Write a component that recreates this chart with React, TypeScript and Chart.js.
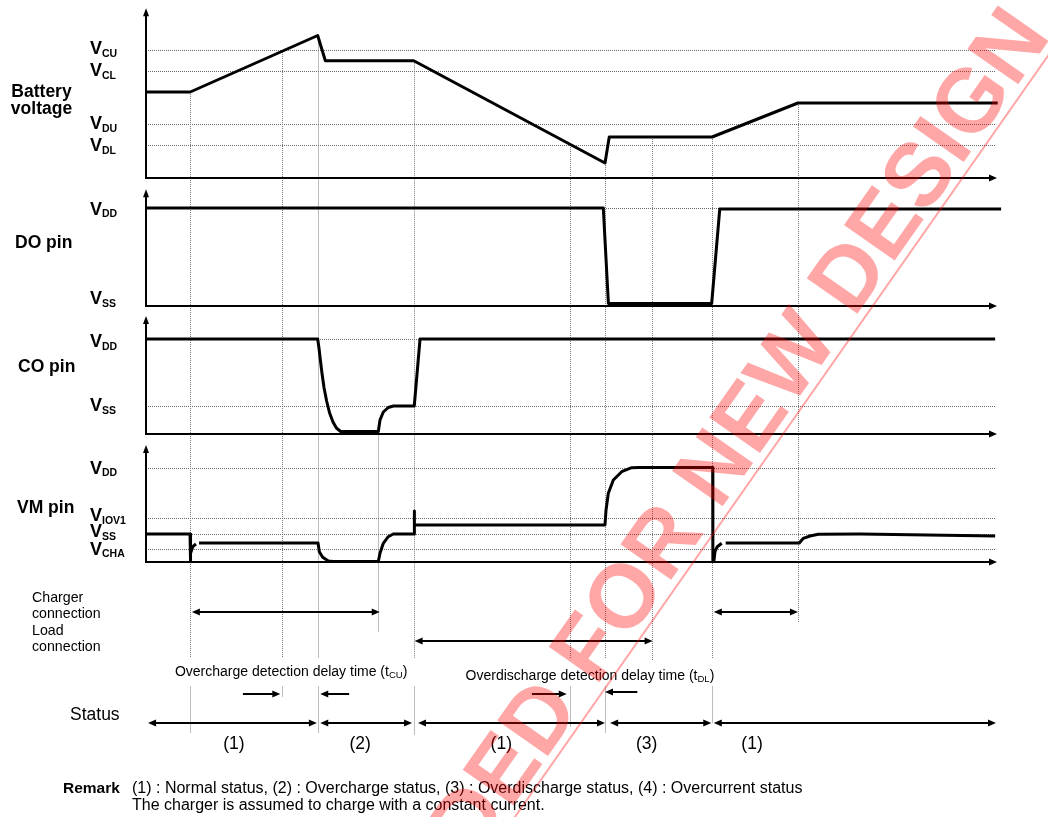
import { useEffect, useRef } from "react";
import { Chart, registerables } from "chart.js";

Chart.register(...registerables);

const FONT = "'Liberation Sans', Arial, Helvetica, sans-serif";

// ---------- time axis (arbitrary time units) ----------
const timeMin = 0;
const timeMax = 100;

// ---------- Battery voltage ----------
const batteryTime = [0, 5.2, 20.2, 21.1, 31.5, 54.0, 54.5, 66.6, 76.7, 100.2];
const batteryLevel = [8.6, 8.6, 14.25, 11.73, 11.73, 1.5, 4.1, 4.1, 7.5, 7.5];
const batteryRefNames = ["CU", "CL", "DU", "DL"];
const batteryRefLevels = [12.8, 10.7, 5.4, 3.3];
const batteryLabelLevels = [13.0, 10.8, 5.5, 3.3];

// ---------- DO pin ----------
const doTime = [0, 53.8, 54.4, 66.55, 67.5, 100.6];
const doLevel = [9.8, 9.8, 0.25, 0.25, 9.7, 9.7];
const doRefLevels = [9.8];
const doLabelNames = ["DD", "SS"];
const doLabelLevels = [9.75, 0.8];

// ---------- CO pin ----------
const coTime = [0, 20.2, 20.35, 20.5, 20.7, 20.95, 21.25, 21.6, 22.0, 22.4, 22.9, 27.33, 27.53, 27.92, 28.5, 29.1, 31.56, 32.24, 99.9];
const coLevel = [9.5, 9.5, 8.6, 7.5, 6.1, 4.6, 3.3, 2.1, 1.2, 0.6, 0.25, 0.25, 1.4, 2.2, 2.65, 2.8, 2.8, 9.5, 9.5];
const coRefLevels = [9.5, 2.8];
const coLabelNames = ["DD", "SS"];
const coLabelLevels = [9.3, 2.9];

// ---------- VM pin ----------
const vmTime = [0, 5.18, 5.21, 5.27, 5.5, 5.88, 6.0, 6.24, 20.24, 20.39, 20.79, 21.45, 22.0, 27.33, 27.53, 27.92, 28.5, 29.09, 31.56, 31.57, 31.58, 54.0, 54.12, 54.39, 54.98, 55.96, 57.14, 57.92, 66.67, 66.69, 66.82, 66.94, 67.21, 67.73, 67.9, 68.2, 76.86, 77.33, 78.12, 79.09, 84.0, 99.9];
const vmLevel = [2.8, 2.8, 0.02, 0.87, 1.53, 1.8, null, 1.9, 1.9, 1.03, 0.47, 0.1, 0.05, 0.05, 0.87, 1.87, 2.53, 2.8, 2.8, 5.1, 3.7, 3.7, 5.2, 6.87, 8.2, 9.03, 9.43, 9.45, 9.45, 0.1, 0.13, 1.03, 1.53, 1.87, null, 1.9, 1.9, 2.37, 2.6, 2.77, 2.8, 2.6];
const vmRefLevels = [9.4, 4.4, 2.8, 1.3];
const vmLabelNames = ["DD", "IOV1", "SS", "CHA"];
const vmLabelLevels = [9.45, 4.7, 3.1, 1.35];

// ---------- vertical guide lines ----------
const guideTime = [5.2, 16.0, 20.2, 27.3, 31.5, 49.9, 54.0, 59.5, 66.6, 76.7];
const guideFromPanel = ["yBat", "yBat", "yBat", "yCO", "yBat", "yBat", "yBat", "yBat", "yBat", "yBat"];
const guideFromLevel = [8.6, 12.8, 14.25, 0.25, 11.73, 3.3, 1.5, 4.1, 4.1, 7.5];
const guideToRow = [17.1, 13.5, 17.1, 7.0, 17.3, 16.5, 17.1, 9.8, 16.1, 6.1];
const guideBroken = [true, true, true, false, true, true, true, false, true, false];

// ---------- connection / status arrows (notes rows) ----------
const chargerStart = [5.4, 66.8];
const chargerEnd = [27.5, 76.7];
const loadStart = [31.6];
const loadEnd = [59.6];
const delayArrowFrom = [11.4, 23.9, 45.4, 57.8];
const delayArrowTo = [15.8, 20.5, 49.5, 54.0];
const delayArrowRow = [13.2, 13.2, 13.2, 13.0];
const statusStart = [0.24, 20.5, 32.0, 54.6, 66.8];
const statusEnd = [20.1, 31.3, 54.0, 66.5, 100];
const statusNames = ["(1)", "(2)", "(1)", "(3)", "(1)"];
const statusLabelTime = [10.35, 25.2, 41.8, 58.9, 71.3];

const ROW_CHARGER = 5.0;
const ROW_LOAD = 7.9;
const ROW_STATUS = 16.1;
const GAP_FROM = 9.6;
const GAP_TO = 12.45;

const panels = [
  { id: "yBat", axisTop: 16.97 },
  { id: "yDO", axisTop: 11.67 },
  { id: "yCO", axisTop: 11.8 },
  { id: "yVM", axisTop: 11.7 },
];

function arrowHead(ctx: CanvasRenderingContext2D, x: number, y: number, dx: number, dy: number, len = 8, half = 3.5) {
  const bx = x - dx * len;
  const by = y - dy * len;
  const nx = -dy;
  const ny = dx;
  ctx.beginPath();
  ctx.moveTo(x, y);
  ctx.lineTo(bx + nx * half, by + ny * half);
  ctx.lineTo(bx - nx * half, by - ny * half);
  ctx.closePath();
  ctx.fill();
}

function seg(ctx: CanvasRenderingContext2D, x1: number, y1: number, x2: number, y2: number) {
  ctx.beginPath();
  ctx.moveTo(x1, y1);
  ctx.lineTo(x2, y2);
  ctx.stroke();
}

function vLabel(ctx: CanvasRenderingContext2D, x: number, yMid: number, sub: string) {
  const base = yMid + 6.4;
  ctx.font = `bold 18px ${FONT}`;
  ctx.textAlign = "left";
  ctx.textBaseline = "alphabetic";
  ctx.fillText("V", x, base);
  const w = ctx.measureText("V").width;
  ctx.font = `bold 10.5px ${FONT}`;
  ctx.fillText(sub, x + w, base + 2.5);
}

function subText(ctx: CanvasRenderingContext2D, x: number, base: number, main: string, sub: string, tail: string, size: number) {
  ctx.textAlign = "left";
  ctx.textBaseline = "alphabetic";
  ctx.font = `${size}px ${FONT}`;
  ctx.fillText(main, x, base);
  let cx = x + ctx.measureText(main).width;
  ctx.font = `${size * 0.68}px ${FONT}`;
  ctx.fillText(sub, cx, base + 1.5);
  cx += ctx.measureText(sub).width;
  ctx.font = `${size}px ${FONT}`;
  ctx.fillText(tail, cx, base);
}

const diagramPlugin = {
  id: "diagram",
  beforeDatasetsDraw(chart: any) {
    const ctx: CanvasRenderingContext2D = chart.ctx;
    const xs = chart.scales.x;
    const X = (t: number) => xs.getPixelForValue(t);
    const Y = (id: string, v: number) => chart.scales[id].getPixelForValue(v);
    ctx.save();
    ctx.strokeStyle = "#6a6a6a";
    ctx.lineWidth = 1;
    ctx.setLineDash([1, 1]);
    const refs: [string, number[]][] = [
      ["yBat", batteryRefLevels],
      ["yDO", doRefLevels],
      ["yCO", coRefLevels],
      ["yVM", vmRefLevels],
    ];
    for (const [id, levels] of refs) {
      for (const lv of levels) {
        const y = Math.round(Y(id, lv)) + 0.5;
        seg(ctx, X(timeMin), y, X(timeMax), y);
      }
    }
    ctx.strokeStyle = "#7a7a7a";
    guideTime.forEach((t, i) => {
      const x = Math.round(X(t)) + 0.5;
      const yTop = Y(guideFromPanel[i], guideFromLevel[i]);
      const yBot = Y("yNote", guideToRow[i]);
      if (guideBroken[i]) {
        seg(ctx, x, yTop, x, Y("yNote", GAP_FROM));
        seg(ctx, x, Y("yNote", GAP_TO), x, yBot);
      } else {
        seg(ctx, x, yTop, x, yBot);
      }
    });
    ctx.setLineDash([]);
    ctx.strokeStyle = "#000";
    ctx.fillStyle = "#000";
    ctx.lineWidth = 2;
    for (const p of panels) {
      const x0 = X(timeMin);
      const y0 = Y(p.id, 0);
      const yTop = Y(p.id, p.axisTop);
      const xEnd = X(timeMax) + 1;
      seg(ctx, x0, y0 + 1, x0, yTop + 6);
      arrowHead(ctx, x0, yTop, 0, -1, 8, 3);
      seg(ctx, x0 - 1, y0, xEnd - 6, y0);
      arrowHead(ctx, xEnd, y0, 1, 0, 8, 3.5);
    }
    ctx.restore();
  },
  afterDraw(chart: any) {
    const ctx: CanvasRenderingContext2D = chart.ctx;
    const xs = chart.scales.x;
    const X = (t: number) => xs.getPixelForValue(t);
    const Y = (id: string, v: number) => chart.scales[id].getPixelForValue(v);
    ctx.save();
    ctx.fillStyle = "#000";
    ctx.strokeStyle = "#000";

    ctx.font = `bold 17.5px ${FONT}`;
    ctx.textBaseline = "alphabetic";
    ctx.textAlign = "center";
    ctx.fillText("Battery", 41.5, Y("yBat", 8.1));
    ctx.fillText("voltage", 41.5, Y("yBat", 6.4));
    ctx.textAlign = "left";
    ctx.fillText("DO pin", 15, Y("yDO", 5.8));
    ctx.fillText("CO pin", 18, Y("yCO", 6.2));
    ctx.fillText("VM pin", 17, Y("yVM", 4.9));

    const LX = 90;
    batteryRefNames.forEach((n, i) => vLabel(ctx, LX, Y("yBat", batteryLabelLevels[i]), n));
    doLabelNames.forEach((n, i) => vLabel(ctx, LX, Y("yDO", doLabelLevels[i]), n));
    coLabelNames.forEach((n, i) => vLabel(ctx, LX, Y("yCO", coLabelLevels[i]), n));
    vmLabelNames.forEach((n, i) => vLabel(ctx, LX, Y("yVM", vmLabelLevels[i]), n));

    ctx.font = `14.2px ${FONT}`;
    ctx.textAlign = "left";
    ctx.fillText("Charger", 32, Y("yNote", 4.0));
    ctx.fillText("connection", 32, Y("yNote", 5.6));
    ctx.fillText("Load", 32, Y("yNote", 7.3));
    ctx.fillText("connection", 32, Y("yNote", 8.9));
    subText(ctx, X(3.4), Y("yNote", 11.4), "Overcharge detection delay time (t", "CU", ")", 14);
    subText(ctx, X(37.6), Y("yNote", 11.8), "Overdischarge detection delay time (t", "DL", ")", 14);
    ctx.font = `17.5px ${FONT}`;
    ctx.fillText("Status", 70, Y("yNote", 15.8));
    ctx.textAlign = "center";
    statusNames.forEach((s, i) => ctx.fillText(s, X(statusLabelTime[i]), Y("yNote", 18.7)));
    ctx.textAlign = "left";
    ctx.font = `bold 15.5px ${FONT}`;
    ctx.fillText("Remark", 63, Y("yNote", 23.1));
    ctx.font = `16px ${FONT}`;
    ctx.fillText("(1) : Normal status, (2) : Overcharge status, (3) : Overdischarge status, (4) : Overcurrent status", 132, Y("yNote", 23.1));
    ctx.fillText("The charger is assumed to charge with a constant current.", 132, Y("yNote", 24.8));

    ctx.lineWidth = 2;
    const dbl = (t1: number, t2: number, row: number) => {
      const y = Y("yNote", row);
      const x1 = X(t1);
      const x2 = X(t2);
      seg(ctx, x1 + 5, y, x2 - 5, y);
      arrowHead(ctx, x1, y, -1, 0, 8, 3.5);
      arrowHead(ctx, x2, y, 1, 0, 8, 3.5);
    };
    chargerStart.forEach((t, i) => dbl(t, chargerEnd[i], ROW_CHARGER));
    loadStart.forEach((t, i) => dbl(t, loadEnd[i], ROW_LOAD));
    statusStart.forEach((t, i) => dbl(t, statusEnd[i], ROW_STATUS));
    delayArrowFrom.forEach((t, i) => {
      const y = Y("yNote", delayArrowRow[i]);
      const x1 = X(t);
      const x2 = X(delayArrowTo[i]);
      const dir = x2 > x1 ? 1 : -1;
      seg(ctx, x1, y, x2 - dir * 5, y);
      arrowHead(ctx, x2, y, dir, 0, 8, 3.5);
    });

    // watermark
    const ang = (-55 * Math.PI) / 180;
    ctx.translate(1052, 36);
    ctx.rotate(ang);
    ctx.fillStyle = "rgba(255,0,0,0.35)";
    ctx.strokeStyle = "rgba(255,0,0,0.35)";
    ctx.font = `bold 90px ${FONT}`;
    ctx.textAlign = "right";
    ctx.textBaseline = "alphabetic";
    ctx.fillText("NOT RECOMMENDED FOR NEW DESIGN", 0, 0);
    ctx.lineWidth = 2;
    seg(ctx, 80, 8, -1400, 8);
    ctx.restore();
  },
};

export default function App() {
  const ref = useRef<HTMLCanvasElement | null>(null);
  useEffect(() => {
    if (!ref.current) return;
    const line = (label: string, ts: number[], vs: (number | null)[], yAxisID: string) => ({
      label,
      data: ts.map((t, i) => ({ x: t, y: vs[i] })),
      yAxisID,
      xAxisID: "x",
      borderColor: "#000",
      borderWidth: 3,
      pointRadius: 0,
      tension: 0,
      fill: false,
      spanGaps: false,
      clip: false as any,
      borderJoinStyle: "round" as const,
    });
    const chart = new Chart(ref.current, {
      type: "line",
      data: {
        datasets: [
          line("Battery voltage", batteryTime, batteryLevel, "yBat"),
          line("DO pin", doTime, doLevel, "yDO"),
          line("CO pin", coTime, coLevel, "yCO"),
          line("VM pin", vmTime, vmLevel, "yVM"),
        ] as any,
      },
      options: {
        animation: false,
        responsive: false,
        devicePixelRatio: 1,
        layout: { padding: { left: 146, right: 52, top: 0, bottom: 0 }, autoPadding: false } as any,
        plugins: { legend: { display: false }, tooltip: { enabled: false } },
        events: [],
        scales: {
          x: { type: "linear", min: timeMin, max: timeMax, display: false },
          yNote: { type: "linear", display: false, min: 0, max: 25.5, reverse: true, stack: "panels", stackWeight: 255 } as any,
          yVM: { type: "linear", display: false, min: 0, max: 12.8, stack: "panels", stackWeight: 128 } as any,
          yCO: { type: "linear", display: false, min: 0, max: 12.8, stack: "panels", stackWeight: 128 } as any,
          yDO: { type: "linear", display: false, min: 0, max: 12.8, stack: "panels", stackWeight: 128 } as any,
          yBat: { type: "linear", display: false, min: 0, max: 17.8, stack: "panels", stackWeight: 178 } as any,
        },
      },
      plugins: [diagramPlugin as any],
    });
    return () => chart.destroy();
  }, []);
  return (
    <div style={{ position: "absolute", left: 0, top: 0, width: 1048, height: 817, background: "#fff" }}>
      <canvas ref={ref} width={1048} height={817} />
    </div>
  );
}
